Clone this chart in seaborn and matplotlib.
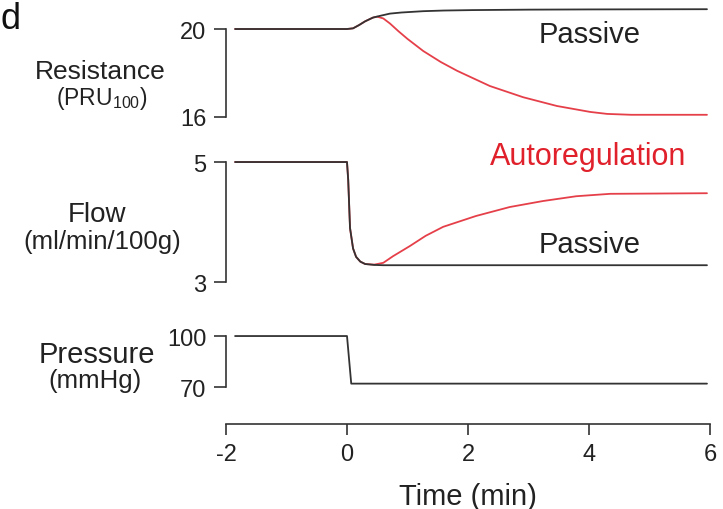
import matplotlib
matplotlib.use("Agg")
import matplotlib.pyplot as plt
import pandas as pd
import seaborn as sns

sns.set_theme(style="white")
plt.rcParams['font.family'] = ['Liberation Sans', 'DejaVu Sans']
plt.rcParams['mathtext.default'] = 'regular'

# ---------------- data ----------------
res_passive_t = [-1.85, 0.0, 0.1, 0.2, 0.3, 0.43, 0.55, 0.71, 0.9, 1.26, 1.6, 2.08, 3.0, 4.0, 5.95]
res_passive_v = [20.0, 20.0, 20.03, 20.18, 20.35, 20.52, 20.6, 20.7, 20.75, 20.81, 20.84, 20.86, 20.88, 20.89, 20.9]

res_auto_t = [-1.85, 0.0, 0.1, 0.2, 0.3, 0.43, 0.5, 0.6, 0.71, 0.85, 1.0, 1.26, 1.55, 1.82, 2.36, 2.91, 3.47, 4.02, 4.3, 4.7, 5.95]
res_auto_v = [20.0, 20.0, 20.03, 20.18, 20.35, 20.52, 20.56, 20.48, 20.25, 19.9, 19.55, 19.0, 18.5, 18.1, 17.41, 16.9, 16.5, 16.23, 16.14, 16.1, 16.1]

flow_passive_t = [-1.85, 0.0, 0.02, 0.05, 0.1, 0.15, 0.22, 0.3, 0.45, 0.6, 5.95]
flow_passive_v = [5.0, 5.0, 4.7, 3.9, 3.56, 3.42, 3.34, 3.3, 3.285, 3.28, 3.28]

flow_auto_t = [-1.85, 0.0, 0.02, 0.05, 0.1, 0.15, 0.22, 0.3, 0.45, 0.6, 0.76, 1.04, 1.3, 1.59, 2.13, 2.69, 3.24, 3.79, 4.35, 5.95]
flow_auto_v = [5.0, 5.0, 4.7, 3.9, 3.56, 3.42, 3.34, 3.3, 3.29, 3.32, 3.43, 3.6, 3.77, 3.92, 4.1, 4.25, 4.35, 4.43, 4.47, 4.48]

press_t = [-1.85, 0.0, 0.07, 5.95]
press_v = [100.0, 100.0, 72.0, 72.0]

res_ticks = [16, 20]
flow_ticks = [3, 5]
press_ticks = [70, 100]
time_ticks = [-2, 0, 2, 4, 6]

BLACK = "#333333"
RED = "#e5404a"
RED_TXT = "#e0202a"

W, H = 723, 510
fig = plt.figure(figsize=(W / 100, H / 100), dpi=100)

left = 226 / W
width = 484 / W

ax_r = fig.add_axes([left, 0.7557, width, 0.2286])
ax_f = fig.add_axes([left, 0.4333, width, 0.2588])
ax_p = fig.add_axes([left, 0.2325, width, 0.1133])


def draw(ax, t, v, color):
    df = pd.DataFrame({"t": t, "v": v})
    sns.lineplot(data=df, x="t", y="v", ax=ax, color=color, linewidth=1.3,
                 sort=False, estimator=None, clip_on=False)


draw(ax_r, res_auto_t, res_auto_v, RED)
draw(ax_r, res_passive_t, res_passive_v, BLACK)
draw(ax_f, flow_auto_t, flow_auto_v, RED)
draw(ax_f, flow_passive_t, flow_passive_v, BLACK)
draw(ax_p, press_t, press_v, BLACK)


def style(ax, ylim, ticks):
    ax.set_xlim(-2, 6)
    ax.set_ylim(*ylim)
    ax.patch.set_alpha(0)
    for s in ["top", "right", "bottom"]:
        ax.spines[s].set_visible(False)
    ax.spines["left"].set_bounds(ticks[0], ticks[-1])
    ax.spines["left"].set_color(BLACK)
    ax.spines["left"].set_linewidth(1.2)
    ax.set_yticks(ticks)
    ax.set_yticklabels([str(t) for t in ticks])
    ax.set_xticks([])
    ax.tick_params(axis="y", left=True, length=9, width=1.2, pad=5,
                   labelsize=17, color=BLACK, labelcolor="#222222")
    ax.set_xlabel("")
    ax.set_ylabel("")


style(ax_r, (15.7, 21.0), res_ticks)
style(ax_f, (2.9, 5.1), flow_ticks)
style(ax_p, (68, 102), press_ticks)

ax_p.spines["bottom"].set_visible(True)
ax_p.spines["bottom"].set_position(("outward", 24.2))
ax_p.spines["bottom"].set_bounds(-2, 6)
ax_p.spines["bottom"].set_color(BLACK)
ax_p.spines["bottom"].set_linewidth(1.2)
ax_p.set_xticks(time_ticks)
ax_p.set_xticklabels([str(t) for t in time_ticks])
ax_p.tick_params(axis="x", bottom=True, length=8, width=1.2, pad=6,
                 labelsize=17, color=BLACK, labelcolor="#222222")
ax_p.set_xlabel("Time (min)", fontsize=21, color="#222222", labelpad=12)

# y-axis titles
def ftext(x, y, s, size, **kw):
    fig.text(x / W, 1 - y / H, s, fontsize=size, ha="center", va="center",
             color="#222222", **kw)

ftext(100, 72, "Resistance", 19)
ftext(102, 98, "(PRU$_{100}$)", 16.5)
ftext(97, 215, "Flow", 20)
ftext(102, 242, "(ml/min/100g)", 18.5)
ftext(97, 355, "Pressure", 21)
ftext(95, 381, "(mmHg)", 18.5)

fig.text(1 / W, 1 - 2 / H, "d", fontsize=26, ha="left", va="top",
         color="#111111")

# annotations
ftext(590, 35, "Passive", 21)
ftext(590, 245, "Passive", 21)
fig.text(588 / W, 1 - 157 / H, "Autoregulation", fontsize=22, ha="center",
         va="center", color=RED_TXT)

fig.savefig("out.png", dpi=100)
